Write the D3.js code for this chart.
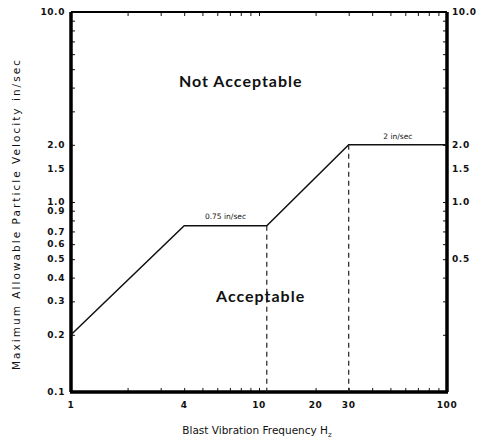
<!DOCTYPE html>
<html lang="en">
<head>
    <meta charset="UTF-8">
    <title>Blast Vibration Limits</title>
    <script src="https://d3js.org/d3.v7.min.js"></script>
    <style>
        body { margin: 0; background: #fff; }
        text { font-family: "DejaVu Sans", sans-serif; fill: #111; }
        .tickLabel { font-size: 9px; font-weight: bold; letter-spacing: 0.6px; }
        .region { font-family: Lato, sans-serif; font-size: 16px; font-weight: bold; letter-spacing: 1px; }
        .note { font-size: 7.5px; }
        .title { font-size: 10.5px; }
    </style>
</head>
<body>
    <svg width="478" height="441"></svg>
    <script>
        // frequency (Hz) and allowable velocity (in/sec) of the limit line
        var limitFreq = [1, 4, 11, 30, 100];
        var limitVel = [0.2, 0.75, 0.75, 2.0, 2.0];
        // dashed drop lines at the knees
        var dropFreq = [11, 30];
        // tick labels
        var xLabels = [1, 4, 10, 20, 30, 100];
        var leftLabels = [0.1, 0.2, 0.3, 0.4, 0.5, 0.6, 0.7, 0.9, 1.0, 1.5, 2.0, 10.0];
        var rightLabels = [0.5, 1.0, 1.5, 2.0, 10.0];

        var margin = {top: 12, right: 31, bottom: 49, left: 71};
        var svg = d3.select("svg");
        var width = +svg.attr("width") - margin.left - margin.right;
        var height = +svg.attr("height") - margin.top - margin.bottom;
        var g = svg.append("g")
            .attr("transform", "translate(" + margin.left + "," + margin.top + ")");

        var x = d3.scaleLog().domain([1, 100]).range([0, width]);
        var y = d3.scaleLog().domain([0.1, 10]).range([height, 0]);

        // minor ticks 1..9 per decade
        var xTicks = x.ticks();
        var yTicks = y.ticks();

        function tickAxis(axis, ticks, t) {
            return g.append("g")
                .attr("transform", t || null)
                .call(axis.tickValues(ticks).tickSize(-4).tickFormat(""))
                .call(function(s) {
                    s.select(".domain").remove();
                    s.selectAll("line").attr("stroke", "#111").attr("stroke-width", 1);
                });
        }
        tickAxis(d3.axisBottom(x), xTicks, "translate(0," + height + ")");
        tickAxis(d3.axisTop(x), xTicks);
        tickAxis(d3.axisLeft(y), yTicks);
        tickAxis(d3.axisRight(y), yTicks, "translate(" + width + ",0)");

        // frame, heavy on three sides
        var frame = [
            {x1: 0, y1: 0, x2: width, y2: 0, w: 2},
            {x1: 0, y1: 0, x2: 0, y2: height, w: 3.5},
            {x1: width, y1: 0, x2: width, y2: height, w: 3.5},
            {x1: -1, y1: height, x2: width + 1, y2: height, w: 3.5}
        ];
        g.selectAll(".frame").data(frame).enter().append("line")
            .attr("x1", function(d) { return d.x1; })
            .attr("y1", function(d) { return d.y1; })
            .attr("x2", function(d) { return d.x2; })
            .attr("y2", function(d) { return d.y2; })
            .attr("stroke", "#000")
            .attr("stroke-width", function(d) { return d.w; });

        // tick labels
        var fmt = d3.format(".1f");
        g.selectAll(".xl").data(xLabels).enter().append("text")
            .attr("class", "tickLabel")
            .attr("x", function(d) { return x(d); })
            .attr("y", height + 16)
            .attr("text-anchor", "middle")
            .text(function(d) { return d; });

        g.selectAll(".ll").data(leftLabels).enter().append("text")
            .attr("class", "tickLabel")
            .attr("x", -6)
            .attr("y", function(d) { return y(d); })
            .attr("dy", "0.35em")
            .attr("text-anchor", "end")
            .text(function(d) { return fmt(d); });

        g.selectAll(".rl").data(rightLabels).enter().append("text")
            .attr("class", "tickLabel")
            .attr("x", width + 5)
            .attr("y", function(d) { return y(d); })
            .attr("dy", "0.35em")
            .text(function(d) { return fmt(d); });

        // limit line
        var pts = limitFreq.map(function(f, i) { return [f, limitVel[i]]; });
        var line = d3.line()
            .x(function(d) { return x(d[0]); })
            .y(function(d) { return y(d[1]); });
        g.append("path")
            .datum(pts)
            .attr("d", line)
            .attr("fill", "none")
            .attr("stroke", "#111")
            .attr("stroke-width", 1.5);

        // dashed drop lines
        g.selectAll(".drop").data(dropFreq).enter().append("line")
            .attr("x1", function(d) { return x(d); })
            .attr("x2", function(d) { return x(d); })
            .attr("y1", function(d) { return y(limitVel[limitFreq.indexOf(d)]); })
            .attr("y2", height)
            .attr("stroke", "#222")
            .attr("stroke-width", 1.2)
            .attr("stroke-dasharray", "5,4");

        // annotations
        g.append("text")
            .attr("class", "note")
            .attr("x", x(Math.sqrt(4 * 11)))
            .attr("y", y(0.75) - 7)
            .attr("text-anchor", "middle")
            .text("0.75 in/sec");
        g.append("text")
            .attr("class", "note")
            .attr("x", x(Math.sqrt(30 * 100)))
            .attr("y", y(2.0) - 6)
            .attr("text-anchor", "middle")
            .text("2 in/sec");

        g.append("text")
            .attr("class", "region")
            .attr("x", x(8))
            .attr("y", y(4.3))
            .attr("dy", "0.35em")
            .attr("text-anchor", "middle")
            .text("Not  Acceptable");
        g.append("text")
            .attr("class", "region")
            .attr("x", x(10.2))
            .attr("y", y(0.32))
            .attr("dy", "0.35em")
            .attr("text-anchor", "middle")
            .text("Acceptable");

        // axis titles
        var xt = svg.append("text")
            .attr("class", "title")
            .attr("x", 257)
            .attr("y", 434)
            .attr("text-anchor", "middle");
        xt.append("tspan").text("Blast Vibration Frequency  H");
        xt.append("tspan").attr("dy", 3).attr("font-size", "7px").text("z");

        svg.append("text")
            .attr("class", "title")
            .attr("transform", "translate(20,215) rotate(-90)")
            .attr("text-anchor", "middle")
            .attr("textLength", 310)
            .text("Maximum Allowable Particle Velocity  in/sec");
    </script>
</body>
</html>
